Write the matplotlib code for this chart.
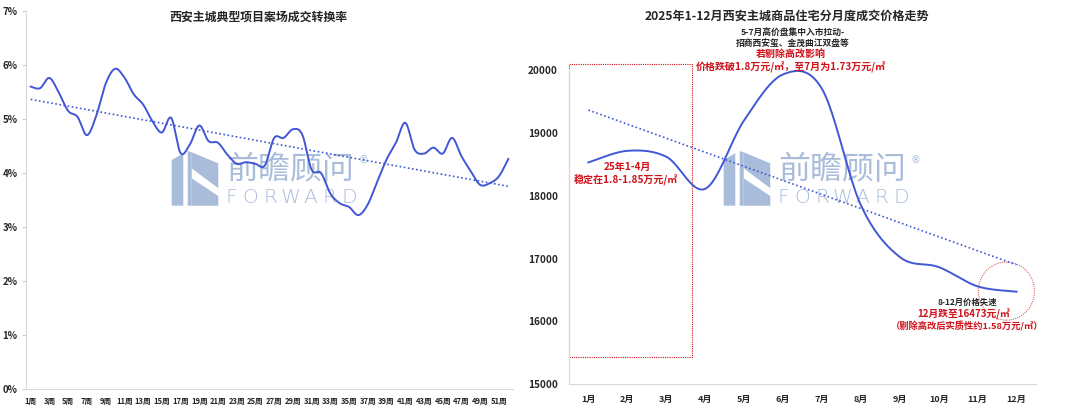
import numpy as np
import matplotlib.pyplot as plt
from matplotlib.patches import Rectangle, Ellipse, Polygon

plt.rcParams['font.family'] = ['Noto Sans CJK SC', 'DejaVu Sans']

# left chart: weekly conversion rate (%)
weeks = np.arange(1, 53)
week_labels = [f"{w}周" if w % 2 == 1 else "" for w in weeks]
conv_rate = [5.60, 5.57, 5.76, 5.49, 5.15, 5.04, 4.70, 5.06, 5.65, 5.93,
             5.77, 5.46, 5.27, 4.96, 4.75, 5.02, 4.37, 4.53, 4.88, 4.59,
             4.56, 4.34, 4.17, 4.20, 4.17, 4.14, 4.65, 4.65, 4.81, 4.71,
             4.06, 4.00, 3.62, 3.44, 3.37, 3.22, 3.42, 3.84, 4.25, 4.56,
             4.93, 4.43, 4.36, 4.47, 4.36, 4.65, 4.31, 4.03, 3.78, 3.81,
             3.94, 4.26]
pct_ticks = [0, 1, 2, 3, 4, 5, 6, 7]

# right chart: monthly price (yuan/m2)
months = np.arange(1, 13)
month_labels = [f"{m}月" for m in months]
price = [18530, 18714, 18620, 18110, 19200, 19930, 19700, 17850,
         17025, 16865, 16558, 16473]
price_ticks = [15000, 16000, 17000, 18000, 19000, 20000]

BLUE = '#4157D5'
RED = '#D0121B'
WM = '#A9BCDA'
TXT = '#262626'
W, H = 1080, 411


def smooth(x, y, n=24):
    # catmull-rom style smoothing like excel's smoothed line
    p = np.column_stack([x, y]).astype(float)
    p = np.vstack([p[0], p, p[-1]])
    xs, ys = [], []
    t = np.linspace(0, 1, n)[:, None]
    for i in range(1, len(p) - 2):
        p0, p1, p2, p3 = p[i - 1], p[i], p[i + 1], p[i + 2]
        c1 = p1 + (p2 - p0) / 6
        c2 = p2 - (p3 - p1) / 6
        b = ((1 - t) ** 3) * p1 + 3 * ((1 - t) ** 2) * t * c1 + 3 * (1 - t) * t ** 2 * c2 + t ** 3 * p2
        xs.append(b[:, 0])
        ys.append(b[:, 1])
    return np.concatenate(xs), np.concatenate(ys)


def fx(px):
    return px / W


def fy(py):
    return 1 - py / H


def watermark(ax, dx):
    tr = ax.figure.transFigure
    def poly(pts):
        pts = [(fx(dx + x), fy(y)) for x, y in pts]
        ax.add_patch(Polygon(pts, closed=True, transform=tr, facecolor=WM,
                             edgecolor='none', zorder=0.5, clip_on=False))
    poly([(171.7, 160), (183.3, 153.3), (183.3, 205.7), (171.7, 205.7)])
    poly([(187.7, 151), (191.7, 152.3), (191.7, 205.7), (187.7, 205.7)])
    poly([(191.7, 152.3), (218.3, 163.3), (218.3, 188.3), (191.7, 168.3)])
    poly([(191.7, 178.3), (218.3, 196), (218.3, 205.7), (191.7, 205.7)])
    ax.text(fx(dx + 290), fy(170), "前瞻顾问", transform=tr, fontsize=23, color=WM,
            ha='center', va='center', fontweight='light', zorder=0.5, clip_on=False)
    ax.text(fx(dx + 364), fy(160), "®", transform=tr, fontsize=7, color=WM,
            ha='center', va='center', zorder=0.5, family='DejaVu Sans')
    for k, ch in enumerate("FORWARD"):
        ax.text(fx(dx + 231 + k * 19.7), fy(197), ch, transform=tr, fontsize=14.5,
                color=WM, ha='center', va='center', family='DejaVu Sans',
                fontweight='light', zorder=0.5)


fig = plt.figure(figsize=(10.8, 4.11), dpi=100)

# ---------- left chart ----------
ax1 = fig.add_axes([fx(26), fy(389), fx(513) - fx(26), fy(11) - fy(389)])
sx, sy = smooth(weeks, conv_rate)
ax1.plot(sx, sy, color=BLUE, lw=1.4, zorder=3)
k, b = np.polyfit(weeks, conv_rate, 1)
ax1.plot(weeks, k * weeks + b, color=BLUE, lw=1.2, ls=(0, (1, 1.5)), zorder=3)
ax1.set_xlim(0.5, 52.5)
ax1.set_ylim(0, 7)
ax1.set_xticks(weeks)
ax1.set_xticklabels(week_labels, fontsize=5.5, color=TXT, fontweight='bold')
ax1.set_yticks(pct_ticks)
ax1.set_yticklabels([f"{v}%" for v in pct_ticks], fontsize=7, color=TXT, fontweight='bold')
ax1.tick_params(axis='x', length=0, pad=6)
ax1.tick_params(axis='y', length=3, color='#D0D0D0', pad=3)
for s in ['top', 'right']:
    ax1.spines[s].set_visible(False)
for s in ['left', 'bottom']:
    ax1.spines[s].set_color('#D9D9D9')
    ax1.spines[s].set_linewidth(0.8)
watermark(ax1, 0)
fig.text(fx(258), fy(17), "西安主城典型项目案场成交转换率", fontsize=8.6,
         fontweight='bold', ha='center', va='center', color=TXT)

# ---------- right chart ----------
ax2 = fig.add_axes([fx(569), fy(384.3), fx(1036) - fx(569), fy(70) - fy(384.3)])
sx, sy = smooth(months, price)
ax2.plot(sx, sy, color=BLUE, lw=1.4, zorder=3, clip_on=False)
k, b = np.polyfit(months, price, 1)
ax2.plot(months, k * months + b, color=BLUE, lw=1.2, ls=(0, (1, 1.5)), zorder=3)
ax2.set_xlim(0.5, 12.5)
ax2.set_ylim(15000, 20000)
ax2.set_xticks(months)
ax2.set_xticklabels(month_labels, fontsize=6.5, color=TXT, fontweight='bold')
ax2.set_yticks(price_ticks)
ax2.set_yticklabels([str(v) for v in price_ticks], fontsize=7.2, color=TXT, fontweight='bold')
ax2.tick_params(axis='both', length=0)
ax2.tick_params(axis='x', pad=8)
ax2.tick_params(axis='y', pad=8)
for s in ['top', 'right']:
    ax2.spines[s].set_visible(False)
for s in ['left', 'bottom']:
    ax2.spines[s].set_color('#D9D9D9')
    ax2.spines[s].set_linewidth(0.8)
watermark(ax2, 552)

ax2.add_patch(Rectangle((0.5, 15431), 3.17, 20096 - 15431, fill=False,
                        edgecolor=RED, lw=0.8, ls=(0, (1, 1)), clip_on=False, zorder=2))
ax2.add_patch(Ellipse((11.74, 16483), 1.44, 925, fill=False, edgecolor='#E06060',
                      lw=0.8, ls=(0, (1, 1)), clip_on=False, zorder=2))

fig.text(fx(787), fy(16), "2025年1-12月西安主城商品住宅分月度成交价格走势", fontsize=8.7,
         fontweight='bold', ha='center', va='center', color=TXT)
fig.text(fx(793), fy(32), "5-7月高价盘集中入市拉动-", fontsize=6.3,
         fontweight='bold', ha='center', va='center', color=TXT)
fig.text(fx(793), fy(43), "招商西安玺、金茂曲江双盘等", fontsize=6.3,
         fontweight='bold', ha='center', va='center', color=TXT)
fig.text(fx(791), fy(54), "若剔除高改影响", fontsize=7.2,
         fontweight='bold', ha='center', va='center', color=RED)
fig.text(fx(791), fy(67), "价格跌破1.8万元/㎡，至7月为1.73万元/㎡", fontsize=7.2,
         fontweight='bold', ha='center', va='center', color=RED)
fig.text(fx(627), fy(167), "25年1-4月", fontsize=7.2,
         fontweight='bold', ha='center', va='center', color=RED)
fig.text(fx(626), fy(180), "稳定在1.8-1.85万元/㎡", fontsize=7.2,
         fontweight='bold', ha='center', va='center', color=RED)
fig.text(fx(967), fy(302), "8-12月价格失速", fontsize=6.0,
         fontweight='bold', ha='center', va='center', color=TXT)
fig.text(fx(964), fy(314), "12月跌至16473元/㎡", fontsize=7.0,
         fontweight='bold', ha='center', va='center', color=RED)
fig.text(fx(967), fy(326), "（剔除高改后实质性约1.58万元/㎡）", fontsize=6.7,
         fontweight='bold', ha='center', va='center', color=RED)

fig.savefig('out.png', dpi=100)
